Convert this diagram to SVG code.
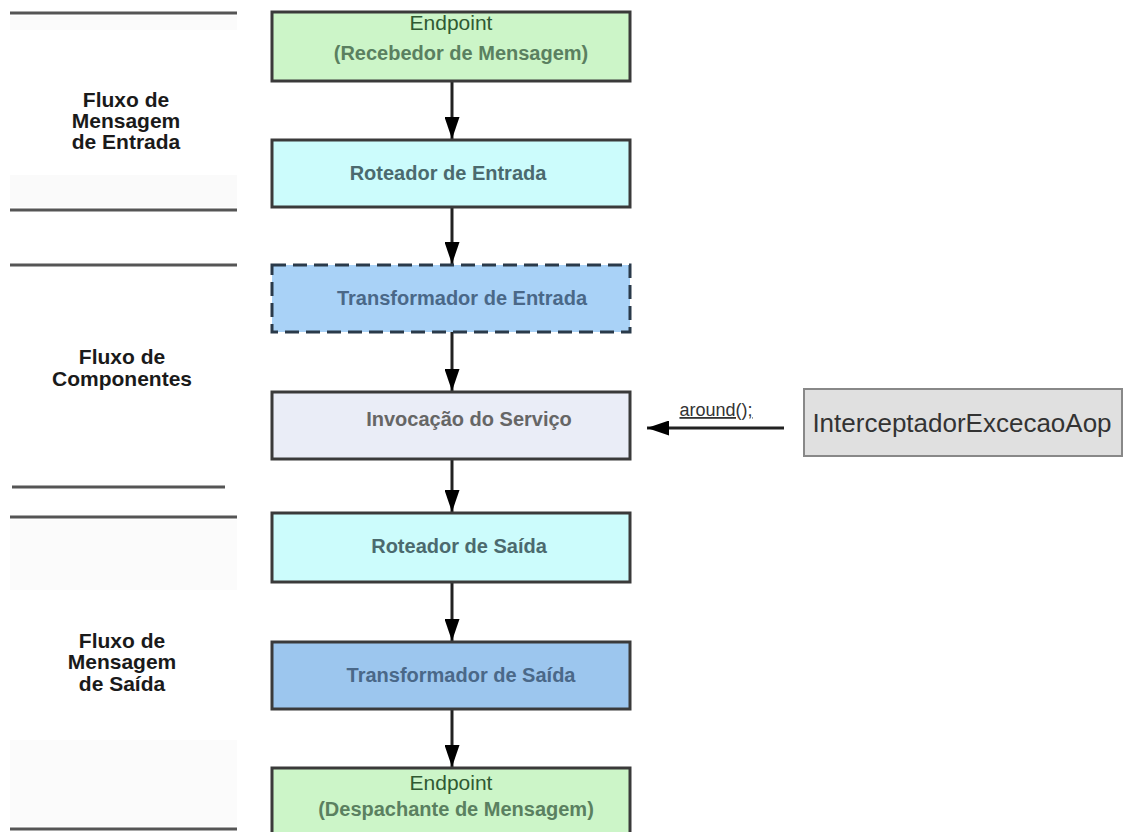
<svg xmlns="http://www.w3.org/2000/svg" width="1143" height="832" viewBox="0 0 1143 832">
  <style>
    .sep { stroke: #555; stroke-width: 3; }
    .lbl { font-family: "Liberation Sans", Arial, sans-serif; font-weight: bold; font-size: 21px; fill: #1a1a1a; text-anchor: middle; }
    .box { stroke: #3a3a3a; stroke-width: 3; }
    .btxt { font-family: "Liberation Sans", Arial, sans-serif; font-weight: bold; font-size: 20px; text-anchor: middle; }
    .conn { stroke: #222; stroke-width: 3; fill: none; }
  </style>
  <defs>
    <marker id="arr" markerUnits="userSpaceOnUse" markerWidth="22" markerHeight="15" viewBox="0 0 22 15" refX="22" refY="7.5" orient="auto">
      <path d="M0,0 L22,7.5 L0,15 Z" fill="#000"/>
    </marker>
  </defs>
  <rect width="1143" height="832" fill="#ffffff"/>

  <g id="left-panel">
    <rect x="10" y="16" width="227" height="14" fill="#fbfbfb"/>
    <rect x="10" y="175" width="227" height="32" fill="#fafafa"/>
    <rect x="10" y="520" width="227" height="70" fill="#fbfbfb"/>
    <rect x="10" y="740" width="227" height="86" fill="#fbfbfb"/>
    <line class="sep" x1="10" y1="13" x2="237" y2="13"/>
    <line class="sep" x1="10" y1="210" x2="237" y2="210"/>
    <line class="sep" x1="10" y1="265" x2="237" y2="265"/>
    <line class="sep" x1="12" y1="487" x2="225" y2="487"/>
    <line class="sep" x1="10" y1="517" x2="237" y2="517"/>
    <line class="sep" x1="10" y1="829" x2="237" y2="829"/>
  </g>

  <g id="label-entrada">
    <text class="lbl" x="126" y="107">Fluxo de</text>
    <text class="lbl" x="126" y="128">Mensagem</text>
    <text class="lbl" x="126" y="149">de Entrada</text>
  </g>
  <g id="label-componentes">
    <text class="lbl" x="122" y="364">Fluxo de</text>
    <text class="lbl" x="122" y="386">Componentes</text>
  </g>
  <g id="label-saida">
    <text class="lbl" x="122" y="648">Fluxo de</text>
    <text class="lbl" x="122" y="669">Mensagem</text>
    <text class="lbl" x="122" y="691">de Saída</text>
  </g>

  <g id="connectors">
    <line class="conn" x1="452" y1="81" x2="452" y2="139" marker-end="url(#arr)"/>
    <line class="conn" x1="452" y1="207" x2="452" y2="264" marker-end="url(#arr)"/>
    <line class="conn" x1="452" y1="332" x2="452" y2="391" marker-end="url(#arr)"/>
    <line class="conn" x1="452" y1="459" x2="452" y2="512" marker-end="url(#arr)"/>
    <line class="conn" x1="452" y1="582" x2="452" y2="641" marker-end="url(#arr)"/>
    <line class="conn" x1="452" y1="709" x2="452" y2="767" marker-end="url(#arr)"/>
    <line class="conn" x1="784" y1="428" x2="647" y2="428" marker-end="url(#arr)"/>
    <text x="716" y="416" font-family="Liberation Sans, Arial, sans-serif" font-size="18" fill="#333" text-anchor="middle" text-decoration="underline">around();</text>
  </g>

  <g id="endpoint-in">
    <rect class="box" x="272" y="12" width="358" height="69" fill="#ccf5c8"/>
    <text x="451" y="30" font-family="Liberation Sans, Arial, sans-serif" font-size="21" fill="#2f5a32" text-anchor="middle">Endpoint</text>
    <text class="btxt" x="461" y="60" fill="#5a8060">(Recebedor de Mensagem)</text>
  </g>
  <g id="roteador-entrada">
    <rect class="box" x="272" y="140" width="358" height="67" fill="#ccfcfc"/>
    <text class="btxt" x="448" y="180" fill="#4b6a6e" font-size="19">Roteador de Entrada</text>
  </g>
  <g id="transformador-entrada">
    <rect x="272" y="265" width="358" height="67" fill="#a9d2f7" stroke="#2a3a4a" stroke-width="3" stroke-dasharray="14 7"/>
    <text class="btxt" x="462" y="305" fill="#4a6888" font-size="20.5">Transformador de Entrada</text>
  </g>
  <g id="invocacao">
    <rect class="box" x="272" y="392" width="358" height="67" fill="#eaedf7"/>
    <text class="btxt" x="469" y="426" fill="#666666">Invocação do Serviço</text>
  </g>
  <g id="roteador-saida">
    <rect class="box" x="272" y="513" width="358" height="69" fill="#ccfcfc"/>
    <text class="btxt" x="459" y="553" fill="#4b6a6e">Roteador de Saída</text>
  </g>
  <g id="transformador-saida">
    <rect class="box" x="272" y="642" width="358" height="67" fill="#9cc6ee"/>
    <text class="btxt" x="461" y="682" fill="#4a6888">Transformador de Saída</text>
  </g>
  <g id="endpoint-out">
    <rect class="box" x="272" y="768" width="358" height="80" fill="#ccf5c8"/>
    <text x="451" y="790" font-family="Liberation Sans, Arial, sans-serif" font-size="21" fill="#2f5a32" text-anchor="middle">Endpoint</text>
    <text class="btxt" x="456" y="816" fill="#5a8060">(Despachante de Mensagem)</text>
  </g>
  <g id="interceptor">
    <rect x="804" y="389" width="318" height="67" fill="#e0e0e0" stroke="#888" stroke-width="2"/>
    <text x="962" y="432" font-family="Liberation Sans, Arial, sans-serif" font-size="26" fill="#333" text-anchor="middle">InterceptadorExcecaoAop</text>
  </g>
</svg>
